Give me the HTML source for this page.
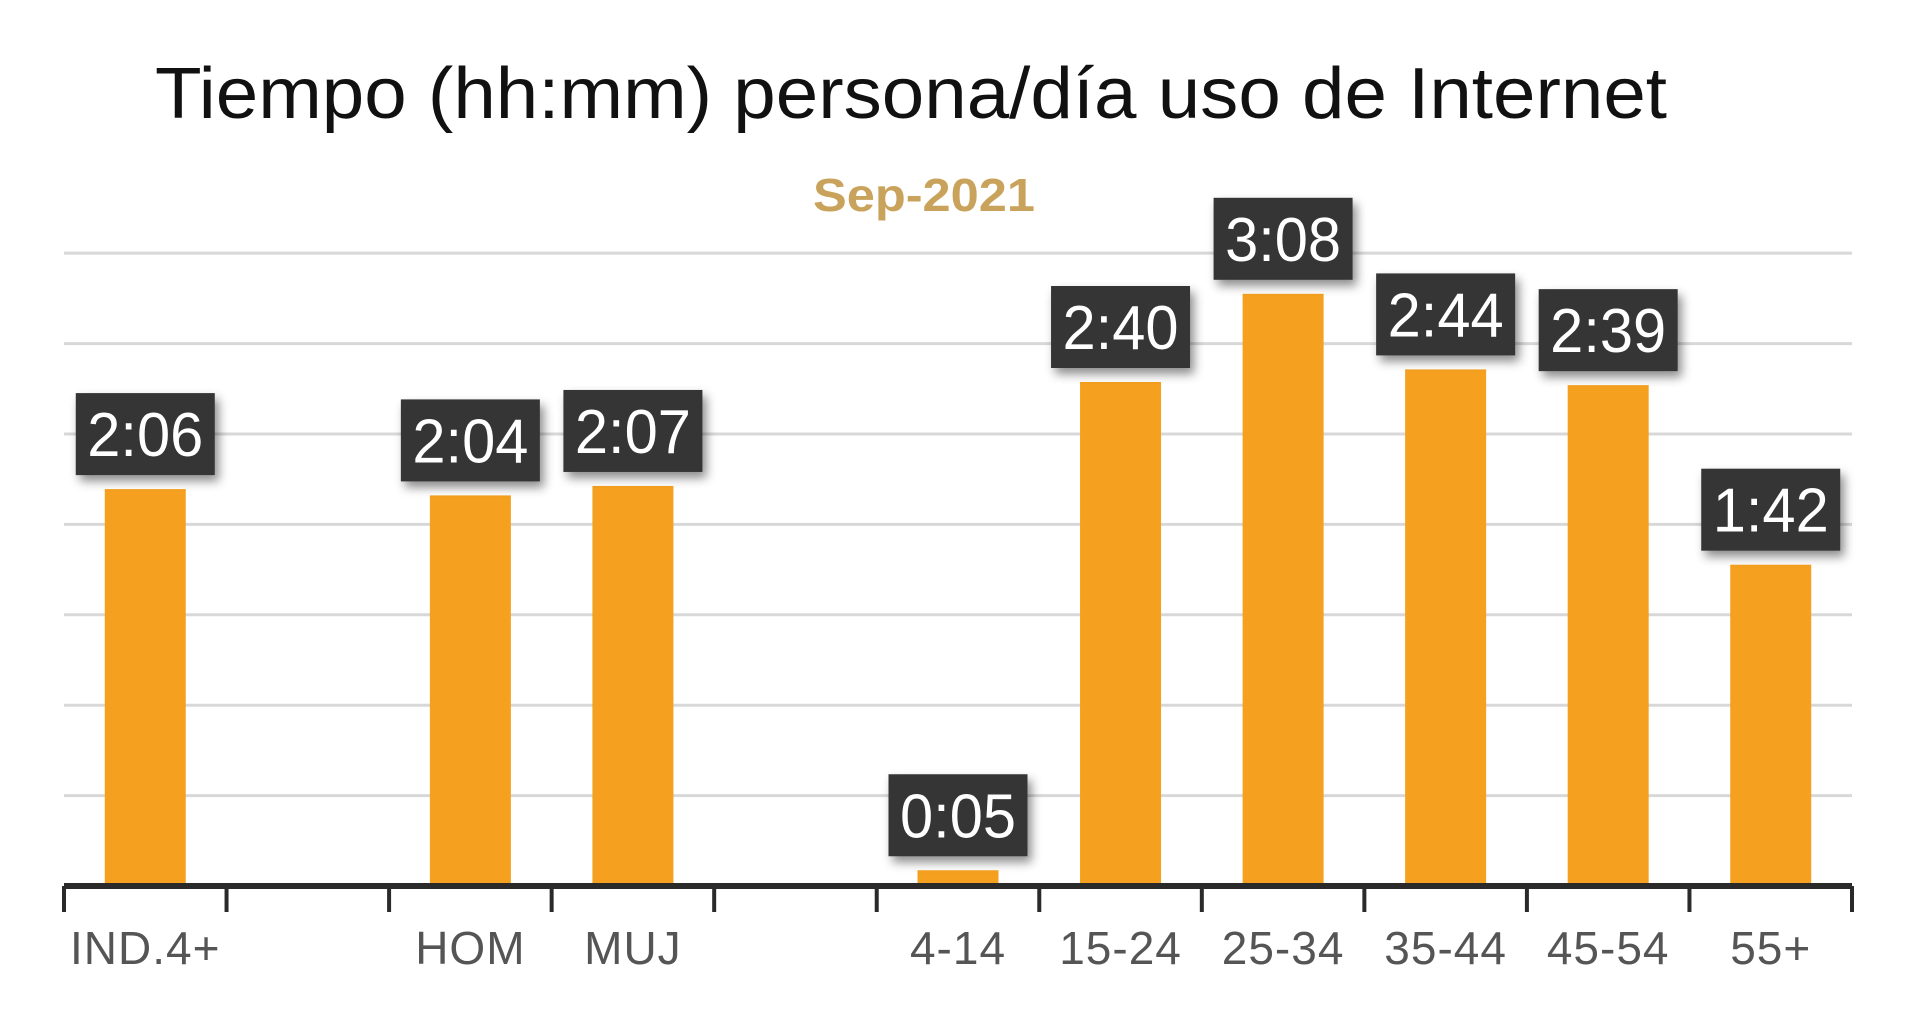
<!DOCTYPE html>
<html><head><meta charset="utf-8">
<style>
html,body{margin:0;padding:0;background:#fff;}
svg{display:block;}
</style></head>
<body>
<svg id="chart" width="1920" height="1026" viewBox="0 0 1920 1026" font-family="'Liberation Sans Narrow','Liberation Sans',sans-serif">
  <text x="155" y="118" font-size="72" fill="#111" textLength="1512" lengthAdjust="spacingAndGlyphs">Tiempo (hh:mm) persona/día uso de Internet</text>
  <text x="924" y="211" font-size="46" font-weight="bold" fill="#c9a35c" text-anchor="middle" textLength="222" lengthAdjust="spacingAndGlyphs">Sep-2021</text>
  <g id="grid"></g>
  <g id="bars"></g>
  <g id="axis"></g>
  <g id="labels"></g>
</svg>
<script>
const categories = ["IND.4+", "", "HOM", "MUJ", "", "4-14", "15-24", "25-34", "35-44", "45-54", "55+"];
const valueLabels = ["2:06", "", "2:04", "2:07", "", "0:05", "2:40", "3:08", "2:44", "2:39", "1:42"];
const minutes = [126, null, 124, 127, null, 5, 160, 188, 164, 159, 102];
const gridValues = [28.7, 57.4, 86.1, 114.8, 143.5, 172.2, 200.9];

const NS = "http://www.w3.org/2000/svg";
const x0 = 64, x1 = 1852, axisY = 886, pxPerMin = 3.15;
const slot = (x1 - x0) / categories.length;
const xCenter = i => x0 + slot * (i + 0.5);
const yScale = v => axisY - v * pxPerMin;
function mk(tag, attrs, parent) {
  const e = document.createElementNS(NS, tag);
  for (const k in attrs) e.setAttribute(k, attrs[k]);
  parent.appendChild(e);
  return e;
}
const grid = document.getElementById('grid');
gridValues.forEach(g => {
  const l = mk('line', {x1: x0, x2: x1, y1: yScale(g), y2: yScale(g), stroke: '#d8d8d8', 'stroke-width': 3}, grid);
  
  
});
const bars = document.getElementById('bars');
const labels = document.getElementById('labels');
const defs = mk('defs', {}, document.getElementById('chart'));
const f = mk('filter', {id: 'sh', x: '-20%', y: '-20%', width: '150%', height: '160%'}, defs);
mk('feDropShadow', {dx: 4, dy: 6, stdDeviation: 5, 'flood-color': '#000', 'flood-opacity': 0.45}, f);
const bw = 81, boxW = 139, boxH = 82;
minutes.forEach((v, i) => {
  if (v === null) return;
  const cx = xCenter(i), top = yScale(v);
  const r = mk('rect', {x: cx - bw / 2, y: top, width: bw, height: axisY - top, fill: '#f5a01f'}, bars);
  
  
  const g = mk('g', {}, labels);
  
  
  mk('rect', {x: cx - boxW / 2, y: top - 14 - boxH, width: boxW, height: boxH, fill: '#353535', filter: 'url(#sh)'}, g);
  const t = mk('text', {x: cx, y: top - 14 - boxH / 2 + 22, 'font-size': 62, fill: '#fff', 'text-anchor': 'middle', textLength: 116, lengthAdjust: 'spacingAndGlyphs'}, g);
  t.textContent = valueLabels[i];
});
const axis = document.getElementById('axis');
mk('line', {x1: x0, x2: x1, y1: axisY, y2: axisY, stroke: '#2a2a2a', 'stroke-width': 6}, axis);
for (let i = 0; i <= categories.length; i++) {
  const x = x0 + slot * i;
  const tk = mk('line', {x1: x, x2: x, y1: axisY, y2: axisY + 26, stroke: '#2a2a2a', 'stroke-width': 4}, axis);
  
  
}
categories.forEach((c, i) => {
  if (!c) return;
  const t = mk('text', {x: xCenter(i), y: 964, 'font-size': 46, fill: '#555', 'text-anchor': 'middle', 'letter-spacing': 1}, axis);
  
  
  t.textContent = c;
});
</script>
</body></html>
